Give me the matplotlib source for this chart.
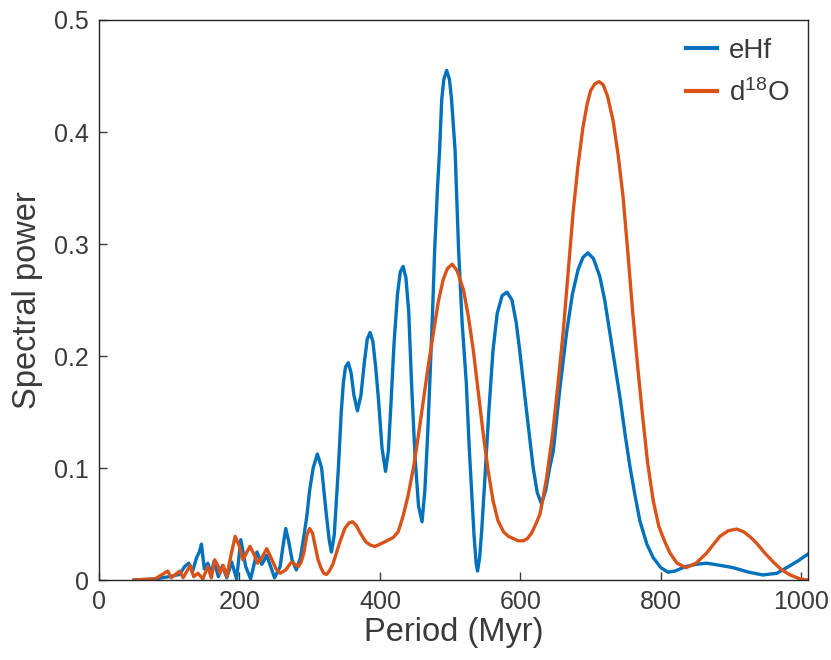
# Spectral power of eHf and d18O records versus period

import matplotlib
matplotlib.use('Agg')
import matplotlib.pyplot as plt

# values (period in Myr, spectral power)
ehf_period = [50, 80, 100, 115, 122, 128, 133, 139, 143, 146, 150, 155, 160, 164, 170,
              176, 182, 189, 196, 202, 209, 216, 225, 232, 239, 250, 258, 262, 266, 270,
              275, 281, 287, 292, 296, 300, 305, 311, 317, 321, 324, 328, 331, 335, 338,
              341, 345, 348, 351, 355, 359, 363, 368, 373, 378, 382, 386, 390, 394, 398,
              403, 408, 412, 416, 420, 425, 429, 433, 437, 441, 445, 450, 455, 460, 464,
              468, 471, 475, 478, 482, 485, 488, 491, 495, 499, 502, 507, 512, 517, 523,
              527, 530, 534, 537, 539, 542, 545, 549, 555, 561, 567, 574, 581, 588, 594,
              599, 608, 618, 624, 630, 636, 641, 647, 656, 666, 674, 682, 689, 696, 704,
              713, 720, 727, 735, 742, 749, 756, 763, 770, 780, 789, 800, 810, 820, 835,
              850, 865, 885, 903, 925, 945, 965, 979, 995, 1009]
ehf_power = [0.0, 0.001, 0.003, 0.005, 0.012, 0.015, 0.007, 0.02, 0.025, 0.032, 0.01,
             0.015, 0.006, 0.017, 0.003, 0.013, 0.002, 0.016, 0.001, 0.036, 0.012, 0.001,
             0.025, 0.014, 0.022, 0.002, 0.012, 0.03, 0.046, 0.035, 0.018, 0.009, 0.02,
             0.04, 0.057, 0.08, 0.100, 0.1125, 0.100, 0.075, 0.057, 0.035, 0.025, 0.04,
             0.07, 0.101, 0.15, 0.176, 0.19, 0.194, 0.185, 0.165, 0.151, 0.165, 0.195,
             0.215, 0.221, 0.213, 0.19, 0.161, 0.118, 0.097, 0.115, 0.16, 0.21, 0.255,
             0.275, 0.280, 0.27, 0.24, 0.176, 0.11, 0.066, 0.052, 0.08, 0.13, 0.176, 0.24,
             0.295, 0.35, 0.384, 0.429, 0.447, 0.455, 0.447, 0.429, 0.384, 0.295, 0.23,
             0.176, 0.12, 0.086, 0.04, 0.015, 0.008, 0.02, 0.045, 0.086, 0.15, 0.205, 0.238,
             0.254, 0.257, 0.25, 0.23, 0.205, 0.155, 0.101, 0.078, 0.068, 0.08, 0.098,
             0.116, 0.17, 0.222, 0.255, 0.277, 0.288, 0.292, 0.287, 0.271, 0.25, 0.222,
             0.19, 0.162, 0.13, 0.101, 0.076, 0.053, 0.032, 0.020, 0.011, 0.007, 0.008,
             0.012, 0.014, 0.015, 0.013, 0.011, 0.007, 0.0045, 0.006, 0.011, 0.017, 0.023]

d18o_period = [50, 80, 98, 103, 115, 120, 130, 135, 141, 148, 155, 160, 165, 170, 172,
               177, 182, 188, 194, 200, 205, 210, 215, 220, 226, 232, 239, 245, 252, 258,
               266, 274, 279, 284, 288, 292, 296, 300, 304, 308, 312, 316, 320, 324, 328,
               333, 342, 350, 356, 361, 366, 372, 380, 387, 393, 400, 410, 419, 426, 433,
               440, 448, 455, 462, 469, 476, 483, 490, 496, 503, 510, 519, 526, 533, 540,
               547, 554, 561, 568, 576, 583, 590, 597, 604, 610, 616, 622, 628, 637, 646,
               654, 661, 668, 675, 682, 689, 695, 700, 706, 712, 718, 724, 732, 739, 746,
               753, 760, 767, 774, 781, 789, 797, 805, 813, 823, 836, 850, 865, 875, 884,
               896, 908, 918, 928, 936, 948, 960, 972, 984, 998, 1009]
d18o_power = [0.0, 0.001, 0.008, 0.002, 0.008, 0.002, 0.013, 0.003, 0.006, 0.001, 0.012,
              0.002, 0.018, 0.012, 0.006, 0.013, 0.003, 0.022, 0.039, 0.03, 0.018, 0.024,
              0.030, 0.024, 0.015, 0.02, 0.028, 0.02, 0.01, 0.006, 0.009, 0.016, 0.014,
              0.012, 0.016, 0.025, 0.04, 0.046, 0.042, 0.03, 0.018, 0.011, 0.006, 0.005,
              0.008, 0.014, 0.032, 0.046, 0.051, 0.052, 0.049, 0.042, 0.034, 0.031, 0.030,
              0.032, 0.035, 0.038, 0.043, 0.057, 0.075, 0.101, 0.13, 0.161, 0.192, 0.220,
              0.248, 0.268, 0.278, 0.282, 0.276, 0.259, 0.235, 0.205, 0.168, 0.131, 0.098,
              0.071, 0.053, 0.043, 0.039, 0.037, 0.035, 0.035, 0.037, 0.042, 0.05, 0.059,
              0.09, 0.131, 0.178, 0.222, 0.275, 0.328, 0.37, 0.404, 0.425, 0.437, 0.443,
              0.445, 0.442, 0.432, 0.410, 0.38, 0.343, 0.292, 0.238, 0.19, 0.146, 0.105,
              0.071, 0.048, 0.035, 0.024, 0.015, 0.011, 0.015, 0.024, 0.032, 0.039, 0.044,
              0.0455, 0.043, 0.038, 0.033, 0.024, 0.016, 0.009, 0.0045, 0.001, 0.0]

xticks = [0, 200, 400, 600, 800, 1000]
yticks = [0, 0.1, 0.2, 0.3, 0.4, 0.5]
ytick_labels = ['0', '0.1', '0.2', '0.3', '0.4', '0.5']

plt.rcParams['font.family'] = ['Liberation Sans', 'DejaVu Sans']
txt = '#3a3a3a'

fig = plt.figure(figsize=(8.31, 6.6), dpi=100)
ax = fig.add_axes([0.119, 0.1212, 0.853, 0.8485])

ax.plot(ehf_period, ehf_power, color='#0072BD', linewidth=2.4, label='eHf')
ax.plot(d18o_period, d18o_power, color='#D95319', linewidth=2.4,
        label=r'd$\mathregular{^{18}}$O')

ax.set_xlim(0, 1009)
ax.set_ylim(0, 0.5)
ax.set_xticks(xticks)
ax.set_yticks(yticks)
ax.set_yticklabels(ytick_labels)
ax.tick_params(direction='in', length=6, width=1, colors=txt, labelsize=18, pad=7)
for s in ax.spines.values():
    s.set_color('#262626')
    s.set_linewidth(1)

ax.set_xlabel('Period (Myr)', fontsize=23.5, color=txt, labelpad=2)
ax.set_ylabel('Spectral power', fontsize=23.5, color=txt, labelpad=8)

leg = ax.legend(loc='upper right', frameon=False, fontsize=20, handlelength=1.1,
                handletextpad=0.45, labelspacing=0.55, borderaxespad=0.25)
for t in leg.get_texts():
    t.set_color(txt)
for h in leg.get_lines():
    h.set_linewidth(3)

plt.savefig('out.png', dpi=100)
